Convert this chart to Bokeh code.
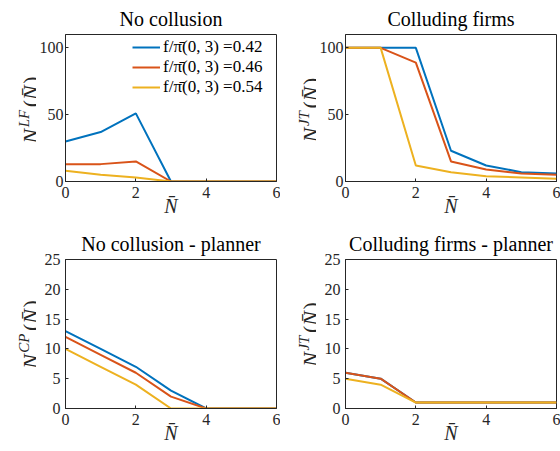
import math
from bokeh.plotting import figure
from bokeh.layouts import gridplot
from bokeh.models import Label, FixedTicker, Range1d
from bokeh.embed import file_html
from bokeh.resources import INLINE

# ---------------- data ----------------
nbar = [0, 1, 2, 3, 4, 5, 6]
ratio_labels = ["0.42", "0.46", "0.54"]
colors = ["#0072BD", "#D95319", "#EDB120"]

# No collusion (N^LF)
lf_042 = [30, 37, 51, 0, 0, 0, 0]
lf_046 = [13, 13, 15, 0, 0, 0, 0]
lf_054 = [8, 5, 3, 0, 0, 0, 0]

# Colluding firms (N^JT)
jt_042 = [100, 100, 100, 23, 12, 7, 6]
jt_046 = [100, 100, 89, 15, 9, 6, 5]
jt_054 = [100, 100, 12, 7, 4, 3, 2]

# No collusion - planner (N^CP)
cp_042 = [13, 10, 7, 3, 0, 0, 0]
cp_046 = [12, 9, 6, 2, 0, 0, 0]
cp_054 = [10, 7, 4, 0, 0, 0, 0]

# Colluding firms - planner (N^JT)
jtp_042 = [6, 5, 1, 1, 1, 1, 1]
jtp_046 = [6, 5, 1, 1, 1, 1, 1]
jtp_054 = [5, 4, 1, 1, 1, 1, 1]

x_ticks = [0, 2, 4, 6]
y_ticks_top = [0, 50, 100]
y_ticks_bottom = [0, 5, 10, 15, 20, 25]

FONT = "Liberation Serif"
AX = "#262626"
LBL_W = 36


def style_axis(ax, ticks, standoff=5):
    ax.ticker = FixedTicker(ticks=ticks)
    ax.major_tick_in = 3
    ax.major_tick_out = 0
    ax.minor_tick_in = 0
    ax.minor_tick_out = 0
    ax.axis_line_color = AX
    ax.major_tick_line_color = AX
    ax.major_label_text_font = FONT
    ax.major_label_text_color = AX
    ax.major_label_text_font_size = "16px"
    ax.major_label_standoff = standoff


def label_fig(fh, sup):
    """narrow panel (frame aligned with the neighbouring plot frame) that
    carries the y-axis label  N_^{sup}(N-bar)"""
    f = figure(frame_width=LBL_W, frame_height=fh,
               x_range=Range1d(0, LBL_W), y_range=Range1d(0, fh),
               output_backend="svg", toolbar_location=None, title=None,
               x_axis_type=None, y_axis_type=None, min_border=0,
               min_border_left=0, min_border_right=0, min_border_top=0, min_border_bottom=0)
    f.outline_line_color = None
    fs = 22
    ss = 15
    w = {"N": 0.667, "L": 0.556, "F": 0.611, "C": 0.667, "P": 0.611,
         "J": 0.444, "T": 0.556, "(": 0.333, ")": 0.333}
    wN = w["N"] * fs
    wsup = sum(w[c] for c in sup) * ss
    wp = w["("] * fs
    # (text, style, size, raise, text width, gap after)
    pieces = [("N\u0332", "italic", fs, 0, wN, 1.5),
              (sup, "italic", ss, 7, wsup, 2.5),
              ("(", "normal", fs, 0, wp, 0),
              ("N\u0304", "italic", fs, 0, wN, 1.5),
              (")", "normal", fs, 0, wp, 0)]
    total = sum(pc[4] + pc[5] for pc in pieces)
    s = fh / 2 - total / 2
    base_x = 30
    for text, st, size, rs, width, gap in pieces:
        # anchored at the upper end of each piece (text runs bottom -> top)
        f.add_layout(Label(x=base_x - rs, y=s + width, text=text, angle=math.pi / 2,
                           text_font=FONT, text_font_style=st,
                           text_font_size=f"{size}px", text_align="right",
                           text_baseline="alphabetic", text_color=AX))
        s += width + gap
    return f


def make_fig(title, ymax, yticks, h, top, bottom, series, ystand, legend=False):
    p = figure(width=280 - LBL_W, height=h, x_range=Range1d(0, 6), y_range=Range1d(0, ymax),
               output_backend="svg", toolbar_location=None,
               min_border_left=63 - LBL_W, min_border_right=4,
               min_border_top=top, min_border_bottom=bottom)
    p.grid.visible = False
    p.outline_line_color = AX
    style_axis(p.xaxis[0], x_ticks)
    style_axis(p.yaxis[0], yticks, ystand)
    p.xaxis[0].axis_label = "N\u0304"
    p.xaxis[0].axis_label_text_font = FONT
    p.xaxis[0].axis_label_text_font_style = "italic"
    p.xaxis[0].axis_label_text_font_size = "20px"
    p.xaxis[0].axis_label_text_color = AX
    p.xaxis[0].axis_label_standoff = -6

    p.title.text = title
    p.title.align = "center"
    p.title.text_font = FONT
    p.title.text_font_size = "20px"
    p.title.text_font_style = "normal"
    p.title.text_color = "black"

    for ys, c, r in zip(series, colors, ratio_labels):
        if legend:
            p.line(nbar, ys, line_color=c, line_width=2,
                   legend_label="f/\u03c0\u0304(0, 3) =" + r)
        else:
            p.line(nbar, ys, line_color=c, line_width=2)

    if legend:
        lg = p.legend[0]
        lg.location = (67, 84)
        lg.padding = 0
        lg.margin = 0
        lg.spacing = 0
        lg.glyph_width = 28
        lg.glyph_height = 18
        lg.label_height = 18
        lg.label_standoff = 3
        lg.label_text_font = FONT
        lg.label_text_font_size = "17px"
        lg.label_text_color = "black"
        lg.background_fill_alpha = 0
        lg.border_line_alpha = 0
    return p


p1 = make_fig("No collusion", 110, y_ticks_top, 225, 30, 44,
              [lf_042, lf_046, lf_054], 2, legend=True)
p2 = make_fig("Colluding firms", 110, y_ticks_top, 225, 30, 44,
              [jt_042, jt_046, jt_054], 2)
p3 = make_fig("No collusion - planner", 25, y_ticks_bottom, 226, 33, 43,
              [cp_042, cp_046, cp_054], 5)
p4 = make_fig("Colluding firms - planner", 25, y_ticks_bottom, 226, 33, 43,
              [jtp_042, jtp_046, jtp_054], 5)

l1 = label_fig(151, "LF")
l2 = label_fig(151, "JT")
l3 = label_fig(150, "CP")
l4 = label_fig(150, "JT")

grid = gridplot([[l1, p1, l2, p2], [l3, p3, l4, p4]], toolbar_location=None)

open("out.html", "w").write(file_html(grid, INLINE))
